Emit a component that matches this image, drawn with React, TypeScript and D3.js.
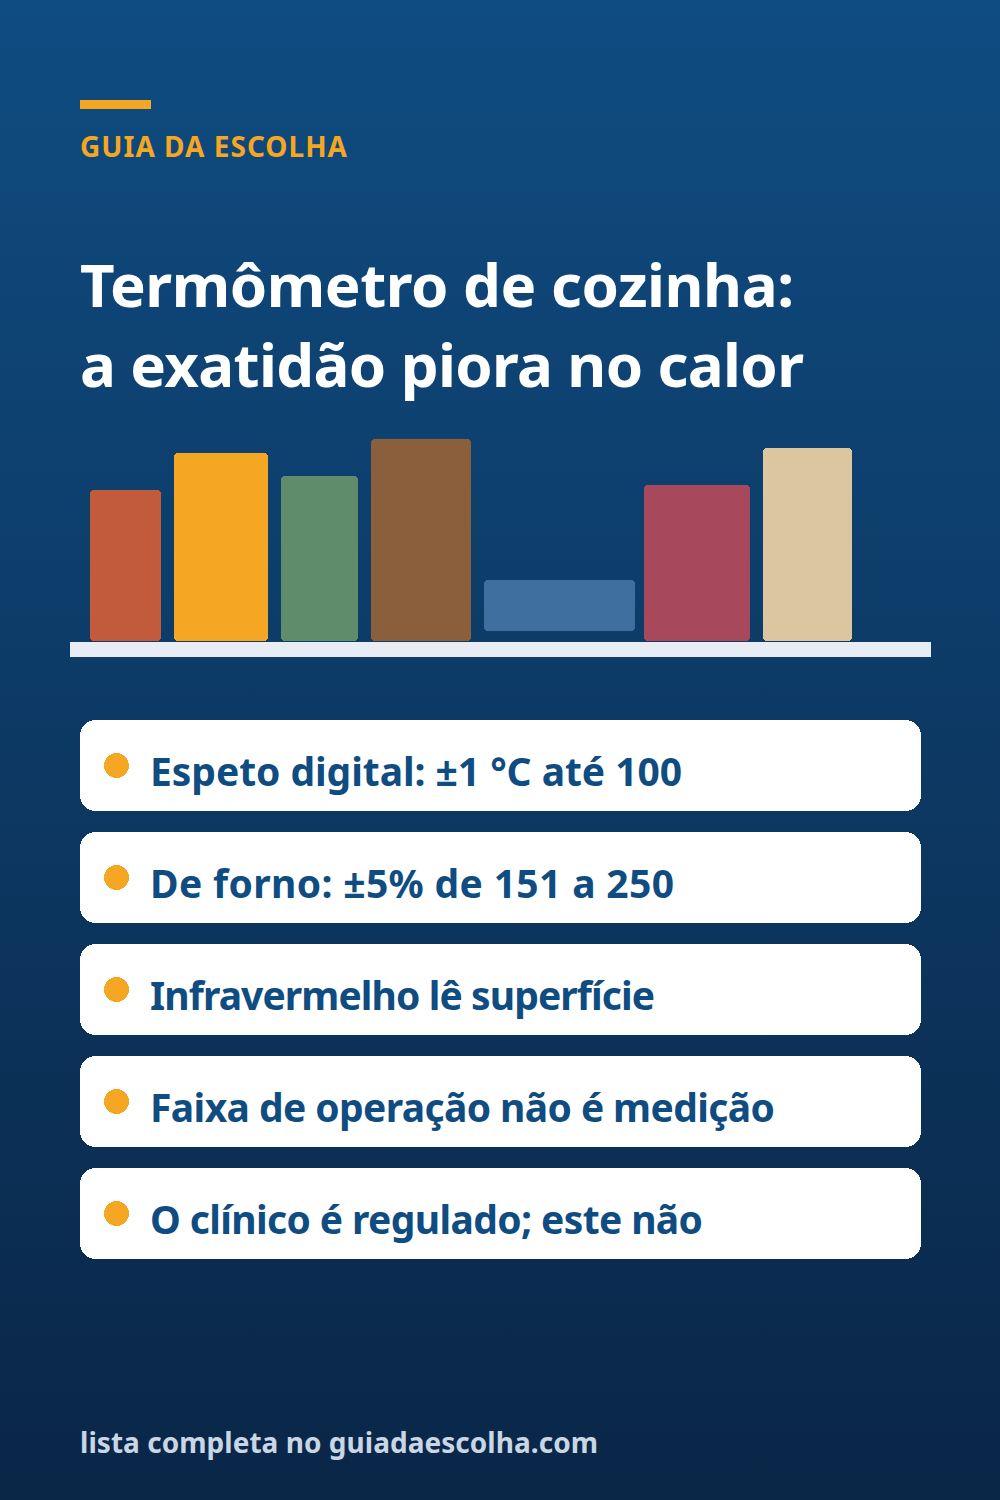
import React, { useMemo } from 'react';
import * as d3 from 'd3';

const WIDTH = 1000;
const HEIGHT = 1500;
const FONT = '"Noto Sans", sans-serif';

// one entry per book on the shelf
const bookHeights = [151, 188, 165, 202, 51, 156, 193];
const bookWidths = [71, 94, 77, 100, 151, 106, 89];
const bookGapsBefore = [20, 13, 13, 13, 13, 9, 13];
const bookLifts = [0, 0, 0, 0, 10, 0, 0];
const bookColors = ['#c25b3c', '#f5a623', '#5f8d6b', '#8b5e3c', '#3f6f9f', '#a8485c', '#dcc6a0'];

const titleLines = ['Termômetro de cozinha:', 'a exatidão piora no calor'];
const listItems = [
  'Espeto digital: ±1 °C até 100',
  'De forno: ±5% de 151 a 250',
  'Infravermelho lê superfície',
  'Faixa de operação não é medição',
  'O clínico é regulado; este não',
];

// measured line lengths, the installed font runs a bit different
const titleLengths = [714, 724];
const itemLengths = [532, 524, 505, 625, 553];

export default function App() {
  // shelf runs 70..931, books sit on top of it
  const shelfSpan = 861;
  const xScale = useMemo(() => d3.scaleLinear().domain([0, shelfSpan]).range([70, 931]), []);
  const yScale = useMemo(() => d3.scaleLinear().domain([0, 202]).range([641, 439]), []);
  const rowScale = useMemo(
    () => d3.scaleBand<number>().domain(d3.range(listItems.length)).range([720, 720 + 112 * listItems.length - 21]).paddingInner(21 / 112),
    []
  );

  const starts = bookWidths.map((_, i) => d3.sum(bookWidths.slice(0, i)) + d3.sum(bookGapsBefore.slice(0, i + 1)));

  return (
    <svg
      width={WIDTH}
      height={HEIGHT}
      viewBox={`0 0 ${WIDTH} ${HEIGHT}`}
      style={{ position: 'absolute', left: 0, top: 0, display: 'block' }}
      fontFamily={FONT}
    >
      <defs>
        <linearGradient id="bg" x1="0" y1="0" x2="0" y2="1">
          <stop offset="0%" stopColor="#0f4c81" />
          <stop offset="100%" stopColor="#0a2647" />
        </linearGradient>
      </defs>
      <rect width={WIDTH} height={HEIGHT} fill="url(#bg)" />

      <rect x={80} y={100} width={71} height={9} fill="#f5a623" shapeRendering="crispEdges" />
      <text x={80} y={157} fontSize={28} fontWeight={700} fill="#f5a623" textLength={267}>
        GUIA DA ESCOLHA
      </text>

      {titleLines.map((line, i) => (
        <text key={line} x={80} y={307 + i * 80} fontSize={60} fontWeight={700} fill="#ffffff" textLength={titleLengths[i]}>
          {line}
        </text>
      ))}

      {bookHeights.map((h, i) => (
        <rect
          key={i}
          x={xScale(starts[i])}
          y={yScale(h + bookLifts[i])}
          width={xScale(bookWidths[i]) - xScale(0)}
          height={yScale(0) - yScale(h)}
          rx={4}
          fill={bookColors[i]}
          shapeRendering="crispEdges"
        />
      ))}
      <rect x={xScale(0)} y={642} width={xScale(shelfSpan) - xScale(0)} height={15} fill="#e8ecf4" shapeRendering="crispEdges" />

      {listItems.map((item, i) => {
        const y = rowScale(i) as number;
        return (
          <g key={item}>
            <rect x={80} y={y} width={841} height={rowScale.bandwidth()} rx={16} fill="#ffffff" shapeRendering="crispEdges" />
            <circle cx={116.5} cy={y + 45.5} r={12.5} fill="#f5a623" shapeRendering="crispEdges" />
            <text x={150} y={y + 66} fontSize={39} fontWeight={700} fill="#0f4c81" textLength={itemLengths[i]}>
              {item}
            </text>
          </g>
        );
      })}

      <text x={80} y={1453} fontSize={28} fontWeight={700} fill="#c8d6e5" textLength={518}>
        lista completa no guiadaescolha.com
      </text>
    </svg>
  );
}
